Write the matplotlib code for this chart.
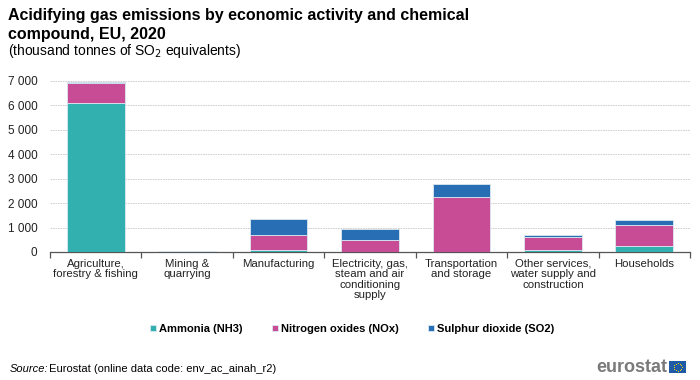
import matplotlib
matplotlib.use("Agg")
import matplotlib.pyplot as plt
import numpy as np
from matplotlib.ticker import FuncFormatter, FixedLocator
from matplotlib.patches import Rectangle

categories = ["Agriculture,\nforestry & fishing", "Mining &\nquarrying", "Manufacturing",
              "Electricity, gas,\nsteam and air\nconditioning\nsupply", "Transportation\nand storage",
              "Other services,\nwater supply and\nconstruction", "Households"]
nh3 = [6080, 2, 95, 10, 20, 95, 250]
nox = [850, 12, 605, 480, 2230, 535, 870]
so2 = [40, 20, 650, 450, 540, 50, 205]
series_names = ["Ammonia (NH3)", "Nitrogen oxides (NOx)", "Sulphur dioxide (SO2)"]
colors = ["#32AFAF", "#C84B96", "#286EB4"]
yticks = [0, 1000, 2000, 3000, 4000, 5000, 6000, 7000]

plt.rcParams['font.family'] = ['Liberation Sans', 'DejaVu Sans']

fig = plt.figure(figsize=(7, 3.8), dpi=100)
ax = fig.add_axes([50/700, 1-252/380, 640/700, (252-81)/380])

x = np.arange(len(categories))
bottom = np.zeros(len(categories))
handles = []
for vals, c, name in zip([nh3, nox, so2], colors, series_names):
    h = ax.bar(x, vals, width=0.63, bottom=bottom, color=c, edgecolor="#dce8f0",
               linewidth=0.6, label=name, zorder=3)
    handles.append(h)
    bottom += np.array(vals)

ax.set_xlim(-0.5, len(categories) - 0.5)
ax.set_ylim(0, 7000)
ax.yaxis.set_major_locator(FixedLocator(yticks))
ax.yaxis.set_major_formatter(FuncFormatter(lambda v, p: f"{int(v):,}".replace(",", " ")))
ax.grid(axis="y", color="#c8c8c8", linestyle=(0, (2, 1)), linewidth=0.6, zorder=0)
for s in ["top", "right", "left"]:
    ax.spines[s].set_visible(False)
ax.spines["bottom"].set_color("#555555")
ax.spines["bottom"].set_linewidth(0.9)
ax.tick_params(axis="y", length=0, labelsize=8.5, colors="#222222", pad=9)
ax.set_xticks(x)
ax.set_xticklabels(categories, fontsize=8.2, color="#222222", linespacing=1.05)
ax.tick_params(axis="x", length=0, pad=5)
ax.set_xticks(np.arange(-0.5, len(categories)), minor=True)
ax.tick_params(axis="x", which="minor", length=4, color="#555555", width=0.9)

fig.text(8/700, 1-25/380, "Acidifying gas emissions by economic activity and chemical\ncompound, EU, 2020",
         fontsize=11.5, fontweight="bold", va="center", ha="left", linespacing=1.3)
fig.text(8/700, 1-51/380, "(thousand tonnes of SO$_2$ equivalents)", fontsize=10, va="center", ha="left")

leg = fig.legend(handles=handles, labels=series_names, loc="center", bbox_to_anchor=(0.503, 1-329/380),
                 ncol=3, frameon=False, handlelength=0.55, handleheight=0.55,
                 handletextpad=0.3, columnspacing=2.6, prop={'weight': 'bold', 'size': 8})

fig.text(10/700, 1-369/380, "Source:", fontsize=8, style="italic", va="center", ha="left")
fig.text(46/700, 1-369/380, " Eurostat (online data code: env_ac_ainah_r2)", fontsize=8, va="center", ha="left")

fig.text(667/700, 1-367/380, "eurostat", fontsize=13, fontweight="bold", color="#7a7a7a",
         va="center", ha="right")
flag = Rectangle((669/700, 1-373/380), 17/700, 12/380, transform=fig.transFigure,
                 facecolor="#1f5aa6", edgecolor="none")
fig.patches.append(flag)
ang = np.linspace(0, 2*np.pi, 12, endpoint=False)
fig.add_artist(plt.Line2D((677.5 + 4*np.cos(ang))/700, (1-367/380) + 4*np.sin(ang)/380,
                          transform=fig.transFigure, linestyle="none", marker="o",
                          markersize=0.7, markeredgewidth=0, color="#ffdd00"))

fig.savefig("out.png", dpi=100)
